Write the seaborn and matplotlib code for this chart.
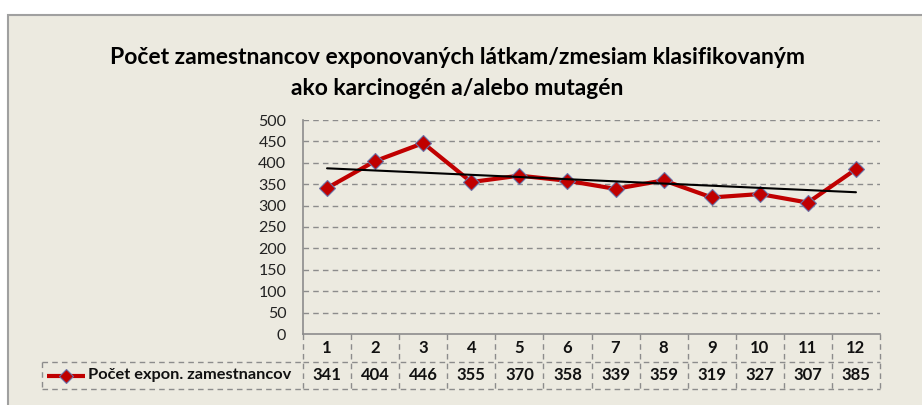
import numpy as np
import pandas as pd
import seaborn as sns
import matplotlib.pyplot as plt
from matplotlib.patches import Rectangle

# data
mesiace = [1, 2, 3, 4, 5, 6, 7, 8, 9, 10, 11, 12]
pocet = [341, 404, 446, 355, 370, 358, 339, 359, 319, 327, 307, 385]
y_ticks = [0, 50, 100, 150, 200, 250, 300, 350, 400, 450, 500]
nazov = "Počet zamestnancov exponovaných látkam/zmesiam klasifikovaným\nako karcinogén a/alebo mutagén"
legenda = "Počet expon. zamestnancov"

df = pd.DataFrame({'mesiac': mesiace, 'pocet': pocet})

bg = '#ECEAE0'
red = '#C00000'
grid_c = '#8C8C8C'

sns.set_style('white')
plt.rcParams['font.family'] = ['Lato', 'DejaVu Sans']

fig = plt.figure(figsize=(9.22, 4.05), dpi=100)
fig.patch.set_facecolor('white')
# chart frame
fig.patches.append(Rectangle((8 / 922, -0.01), 1.0, (405 - 15) / 405 + 0.01, transform=fig.transFigure,
                             facecolor=bg, edgecolor='#A0A0A0', lw=1.5, zorder=-10))

ax = fig.add_axes([303 / 922, 71 / 405, 577 / 922, 214 / 405])
ax.set_facecolor(bg)
ax.patch.set_alpha(0)

sns.lineplot(data=df, x='mesiac', y='pocet', ax=ax, color=red, lw=3, marker='D',
             markersize=8.5, markerfacecolor=red, markeredgecolor='#6A72A8',
             markeredgewidth=0.8, zorder=3)
sns.regplot(data=df, x='mesiac', y='pocet', ax=ax, scatter=False, ci=None,
            color='black', line_kws={'lw': 1.5, 'zorder': 4})

ax.set_xlim(0.5, 12.5)
ax.set_ylim(0, 500)
ax.set_yticks(y_ticks)
ax.set_yticklabels([str(v) for v in y_ticks], fontsize=11.5, color='#222222')
ax.set_xticks([])
ax.set_xlabel('')
ax.set_ylabel('')
ax.tick_params(axis='y', length=0, pad=12)
for v in y_ticks[1:]:
    ax.axhline(v, color=grid_c, lw=1, ls=(0, (4, 3)), zorder=1)
for s in ['top', 'right']:
    ax.spines[s].set_visible(False)
for s in ['left', 'bottom']:
    ax.spines[s].set_color('#8C8C8C')
    ax.spines[s].set_linewidth(1.2)

ax.set_title(nazov, fontsize=16.5, fontweight='bold', x=(457 - 303) / 577, pad=18,
             linespacing=1.6, color='black')

# data table under the plot
trans = ax.get_xaxis_transform()
h = 214.0
r1 = -28 / h
r2 = -55 / h
dash = dict(color=grid_c, lw=1, ls=(0, (4, 3)), clip_on=False, transform=trans)
for k in range(13):
    ax.plot([0.5 + k, 0.5 + k], [0, r2], **dash)
ax.plot([0.5, 12.5], [r1, r1], **dash)
ax.plot([0.5, 12.5], [r2, r2], **dash)

# legend cell extends to the left
lx0 = 0.5 - (303 - 42) / 48
ax.plot([lx0, 0.5], [r1, r1], **dash)
ax.plot([lx0, 0.5], [r2, r2], **dash)
ax.plot([lx0, lx0], [r1, r2], **dash)

for m, v in zip(mesiace, pocet):
    ax.text(m, r1 / 2, str(m), transform=trans, ha='center', va='center',
            fontsize=12, fontweight='bold', color='#111111')
    ax.text(m, (r1 + r2) / 2, str(v), transform=trans, ha='center', va='center',
            fontsize=12, fontweight='bold', color='#111111')

ym = (r1 + r2) / 2
ax.plot([lx0 + 5 / 48, lx0 + 43 / 48], [ym, ym], color=red, lw=3, clip_on=False,
        transform=trans, solid_capstyle='butt')
ax.plot([lx0 + 24 / 48], [ym], marker='D', markersize=7, color=red,
        markeredgecolor='#6A72A8', markeredgewidth=0.8, clip_on=False, transform=trans)
ax.text(lx0 + 46 / 48, ym, legenda, transform=trans, ha='left', va='center',
        fontsize=11.8, fontweight='bold', color='#111111')

fig.savefig('out.png', dpi=100, facecolor=fig.get_facecolor())
